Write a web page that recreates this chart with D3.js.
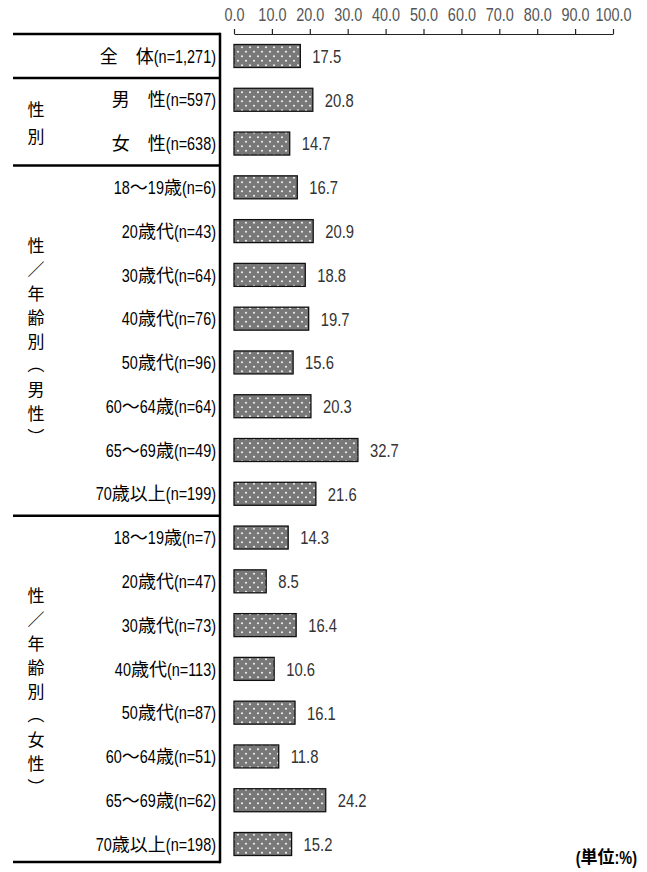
<!DOCTYPE html>
<html lang="ja">
<head>
<meta charset="utf-8">
<script src="https://cdn.jsdelivr.net/npm/d3@7"></script>
<style>
  html, body { margin: 0; padding: 0; background: #fff; }
  svg { display: block; }
</style>
</head>
<body>
<svg id="chart" width="647" height="872"></svg>
<script>
// Category rows (top to bottom)
const categories = [
  "全　体(n=1,271)",
  "男　性(n=597)", "女　性(n=638)",
  "18～19歳(n=6)", "20歳代(n=43)", "30歳代(n=64)", "40歳代(n=76)",
  "50歳代(n=96)", "60～64歳(n=64)", "65～69歳(n=49)", "70歳以上(n=199)",
  "18～19歳(n=7)", "20歳代(n=47)", "30歳代(n=73)", "40歳代(n=113)",
  "50歳代(n=87)", "60～64歳(n=51)", "65～69歳(n=62)", "70歳以上(n=198)"
];
// Percentages for each row
const values = [
  17.5,
  20.8, 14.7,
  16.7, 20.9, 18.8, 19.7, 15.6, 20.3, 32.7, 21.6,
  14.3, 8.5, 16.4, 10.6, 16.1, 11.8, 24.2, 15.2
];
const tickValues = [0, 10, 20, 30, 40, 50, 60, 70, 80, 90, 100];
// Grouping of rows: vertical label and first/last row index
const groupLabels = [
  ["性", "別"],
  ["性", "／", "年", "齢", "別", "（", "男", "性", "）"],
  ["性", "／", "年", "齢", "別", "（", "女", "性", "）"]
];
const groupRows = [[1, 2], [3, 10], [11, 18]];
const separatorsAfter = [0, 2, 10];
const unitLabel = "(単位:%)";

const LATIN = "'Liberation Sans', Arial, sans-serif";
const CJK = "'Noto Sans CJK JP', sans-serif";
const NARROW = 0.78;   // horizontal squeeze for the Latin runs

const svg = d3.select("#chart");
const plotTop = 34, plotBottom = 866, frameBottom = 862;
const frameLeft = 13, frameRight = 220;

const x = d3.scaleLinear().domain([0, 100]).range([234, 613]);
const y = d3.scaleBand().domain(d3.range(categories.length))
  .range([plotTop, plotBottom]).paddingInner(0.475).paddingOuter(0.24);

// Draws a string made of CJK and Latin runs, right-aligned at xr,
// vertically centred on yc; Latin runs are drawn narrow.
const cjkChar = /[\u3000-\u30ff\u3400-\u9fff\ufe30-\ufe4f\uff00-\uffef]/;
const runRe = /[\u3000-\u30ff\u3400-\u9fff\ufe30-\ufe4f\uff00-\uffef]+|[^\u3000-\u30ff\u3400-\u9fff\ufe30-\ufe4f\uff00-\uffef]+/g;
function mixedLabel(parent, str, xr, yc, fsLatin, fsCjk, fill, weight) {
  const g = parent.append("g");
  const runs = str.match(runRe) || [];
  const items = runs.map(r => {
    const isCjk = cjkChar.test(r);
    const t = g.append("text")
      .attr("font-family", isCjk ? CJK : LATIN)
      .attr("font-size", isCjk ? fsCjk : fsLatin)
      .attr("font-weight", weight || "normal")
      .attr("fill", fill)
      .style("white-space", "pre")
      .text(r);
    const w = t.node().getComputedTextLength() * (isCjk ? 1 : NARROW);
    return { t, w, isCjk };
  });
  let px = xr;
  for (let k = items.length - 1; k >= 0; k--) {
    const it = items[k];
    px -= it.w;
    const base = yc + (it.isCjk ? 0.37 * fsCjk : 0.36 * fsLatin);
    it.t.attr("transform",
      `translate(${px},${base}) scale(${it.isCjk ? 1 : NARROW},1)`);
  }
  return g;
}

// dotted fill for bars
const defs = svg.append("defs");
const pat = defs.append("pattern").attr("id", "dots")
  .attr("patternUnits", "userSpaceOnUse").attr("width", 8).attr("height", 9);
pat.append("rect").attr("width", 8).attr("height", 9).attr("fill", "#787878");
pat.append("circle").attr("cx", 2).attr("cy", 2.25).attr("r", 1.1).attr("fill", "#eee");
pat.append("circle").attr("cx", 6).attr("cy", 6.75).attr("r", 1.1).attr("fill", "#eee");

// axis along the top
const axis = d3.axisTop(x).tickValues(tickValues).tickFormat(d3.format(".1f"))
  .tickSize(5).tickSizeOuter(0).tickPadding(8);
const gAxis = svg.append("g").attr("transform", `translate(0,${plotTop})`).call(axis);
gAxis.select(".domain").attr("stroke", "#222").attr("stroke-width", 1.2);
gAxis.selectAll(".tick line").attr("stroke", "#222").attr("stroke-width", 1.2);
gAxis.selectAll(".tick text")
  .attr("font-family", LATIN).attr("font-size", 18.5)
  .attr("fill", "#555")
  .attr("transform", `scale(${NARROW},1)`);

// bars
svg.append("g").selectAll("rect").data(values).join("rect")
  .attr("x", x(0))
  .attr("y", (d, i) => y(i))
  .attr("width", d => x(d) - x(0))
  .attr("height", y.bandwidth())
  .attr("fill", "url(#dots)")
  .attr("stroke", "#111").attr("stroke-width", 1.3);

// value labels
const vfs = 19;
svg.append("g").selectAll("text").data(values).join("text")
  .attr("font-family", LATIN)
  .attr("transform", (d, i) =>
    `translate(${x(d) + 12},${y(i) + y.bandwidth() / 2 + 0.36 * vfs}) scale(${NARROW},1)`)
  .attr("font-size", vfs).attr("fill", "#333")
  .text(d => d.toFixed(1));

// category labels
const gCat = svg.append("g");
categories.forEach((c, i) => {
  mixedLabel(gCat, c, 216, y(i) + y.bandwidth() / 2, 18.5, 18, "#000");
});

// frame lines
const midAfter = i => (y(i) + y.bandwidth() + y(i + 1)) / 2;
const frame = svg.append("g").attr("stroke", "#000").attr("stroke-width", 2.5);
[plotTop, ...separatorsAfter.map(midAfter), frameBottom].forEach(yy => {
  frame.append("line").attr("x1", frameLeft).attr("x2", frameRight)
    .attr("y1", yy).attr("y2", yy);
});
frame.append("line").attr("x1", frameRight).attr("x2", frameRight)
  .attr("y1", plotTop - 1.25).attr("y2", frameBottom + 1.25);

// vertical group labels; brackets are turned to read top to bottom
groupLabels.forEach((chars, g) => {
  const [a, b] = groupRows[g];
  const cy = (y(a) + y(b) + y.bandwidth()) / 2;
  const gap = g === 0 ? 27 : 24;
  const y0 = cy - (chars.length - 1) * gap / 2;
  const fs = 17;
  svg.append("g").selectAll("text").data(chars).join("text")
    .attr("font-family", CJK)
    .attr("font-size", fs).attr("fill", "#000")
    .attr("text-anchor", "middle")
    .attr("dominant-baseline", "central")
    .attr("transform", (d, k) => {
      const cyk = y0 + k * gap;
      return (d === "（" || d === "）")
        ? `translate(36,${cyk}) rotate(90)`
        : `translate(36,${cyk})`;
    })
    .text(d => d);
});

// unit note
mixedLabel(svg, unitLabel, 637, 857, 18.5, 17, "#000", "bold");
</script>
</body>
</html>
